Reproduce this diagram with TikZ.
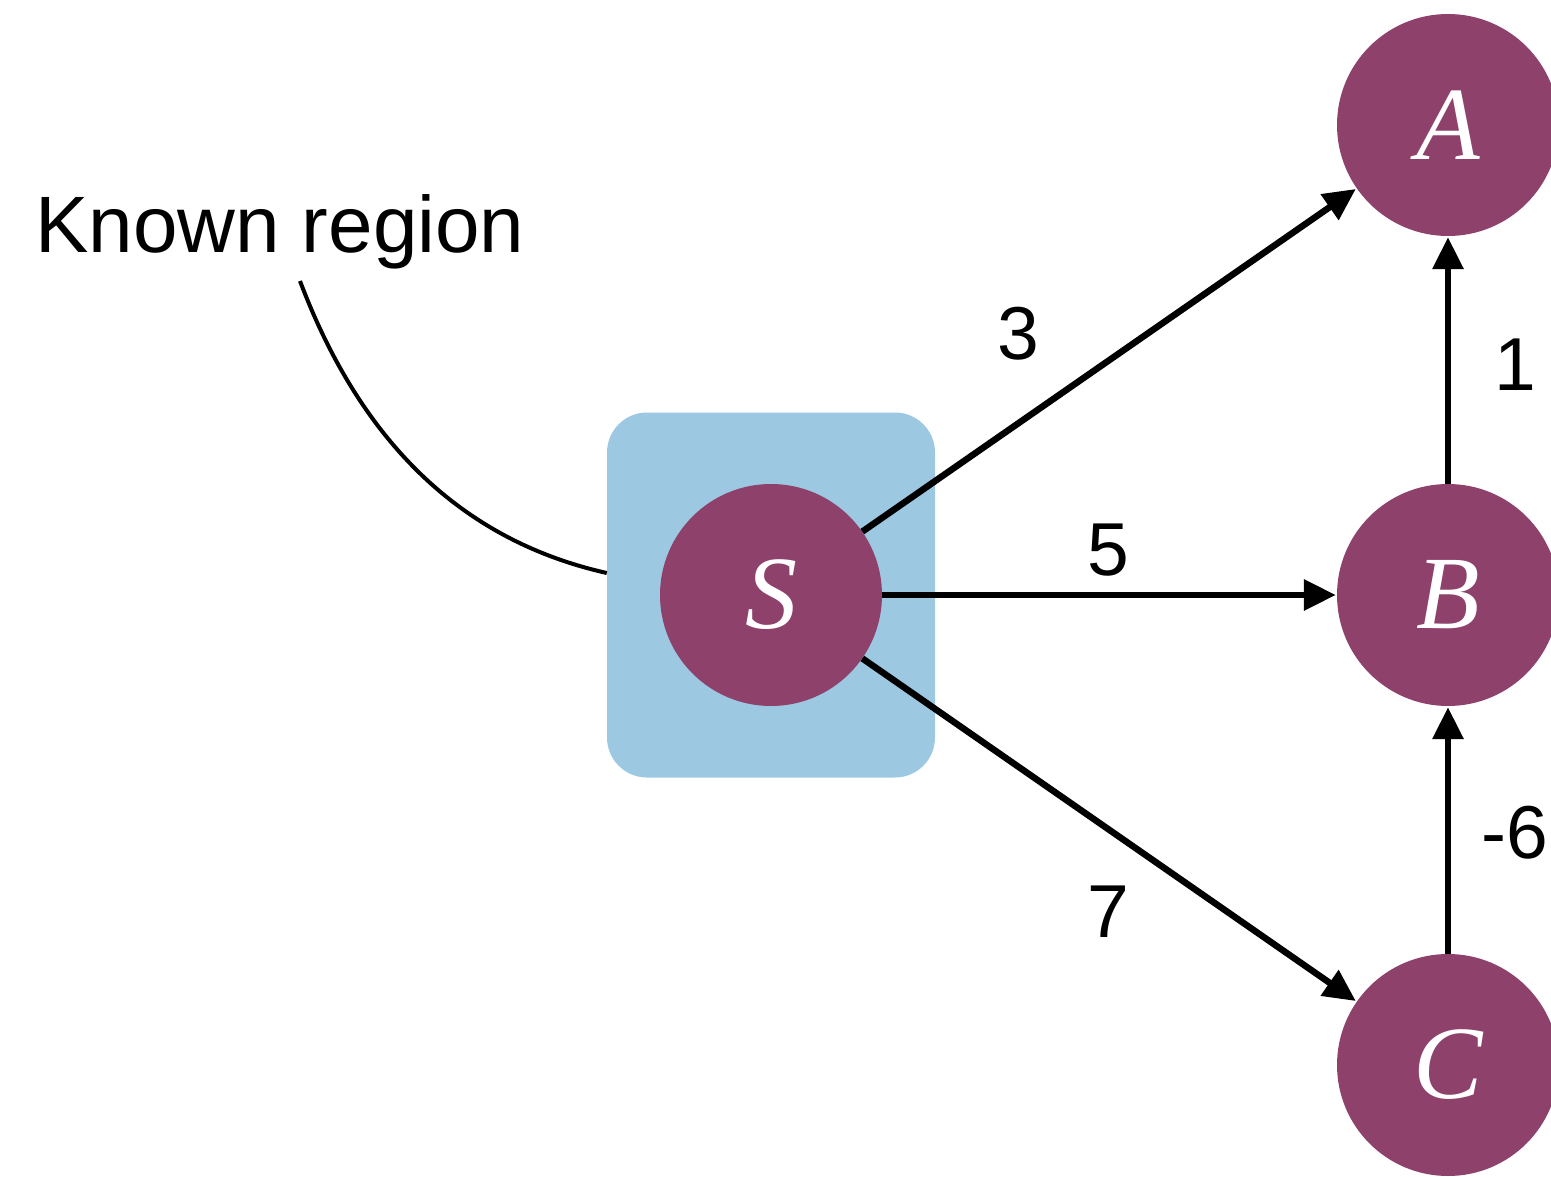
\documentclass[tikz,border=0pt]{standalone}
\usepackage{fontspec}
\setmainfont{Liberation Sans}
\newfontfamily\letterfont{Liberation Serif}
\usetikzlibrary{arrows.meta}
\definecolor{nodepurple}{HTML}{8E416B}
\definecolor{regionblue}{HTML}{9CC8E2}
\tikzset{
  vertex/.style={circle, fill=nodepurple, minimum size=222pt, inner sep=0pt, text=white, font=\letterfont\itshape\fontsize{104}{104}\selectfont},
  edge/.style={line width=6.5pt, -{Triangle[length=32pt,width=30pt]}, shorten >=1pt},
  weight/.style={font=\fontsize{75}{75}\selectfont},
}
\begin{document}
\begin{tikzpicture}[x=1pt,y=-1pt]
\useasboundingbox (0,0) rectangle (1551,1177);
\node[fill=regionblue, rounded corners=40pt, minimum width=328pt, minimum height=365pt, inner sep=0pt] (region) at (771,595) {};
\node[vertex] (S) at (771,595) {\raisebox{-4pt}{S}};
\node[vertex] (A) at (1448,125) {\raisebox{-4pt}{A}};
\node[vertex] (B) at (1448,595) {\raisebox{-4pt}{B}};
\node[vertex] (C) at (1448,1065) {\raisebox{-4pt}{C}};
\node[font=\fontsize{80}{80}\selectfont, anchor=base west, inner sep=0pt] (label) at (35,253) {Known region};
\coordinate (curvestart) at (300,281);
\draw[line width=4pt] (curvestart) .. controls (360,440) and (460,540) .. (region.west |- 0,573);
\draw[edge] (S) -- (A);
\draw[edge] (S) -- (B);
\draw[edge] (S) -- (C);
\draw[edge] (B) -- (A);
\draw[edge] (C) -- (B);
\node[weight] (w3) at (1018,334) {3};
\node[weight] (w5) at (1108,550) {5};
\node[weight] (w7) at (1108,912) {7};
\node[weight] (w1) at (1515,365) {1};
\node[weight] (w6) at (1515,833) {-6};
\end{tikzpicture}
\end{document}
